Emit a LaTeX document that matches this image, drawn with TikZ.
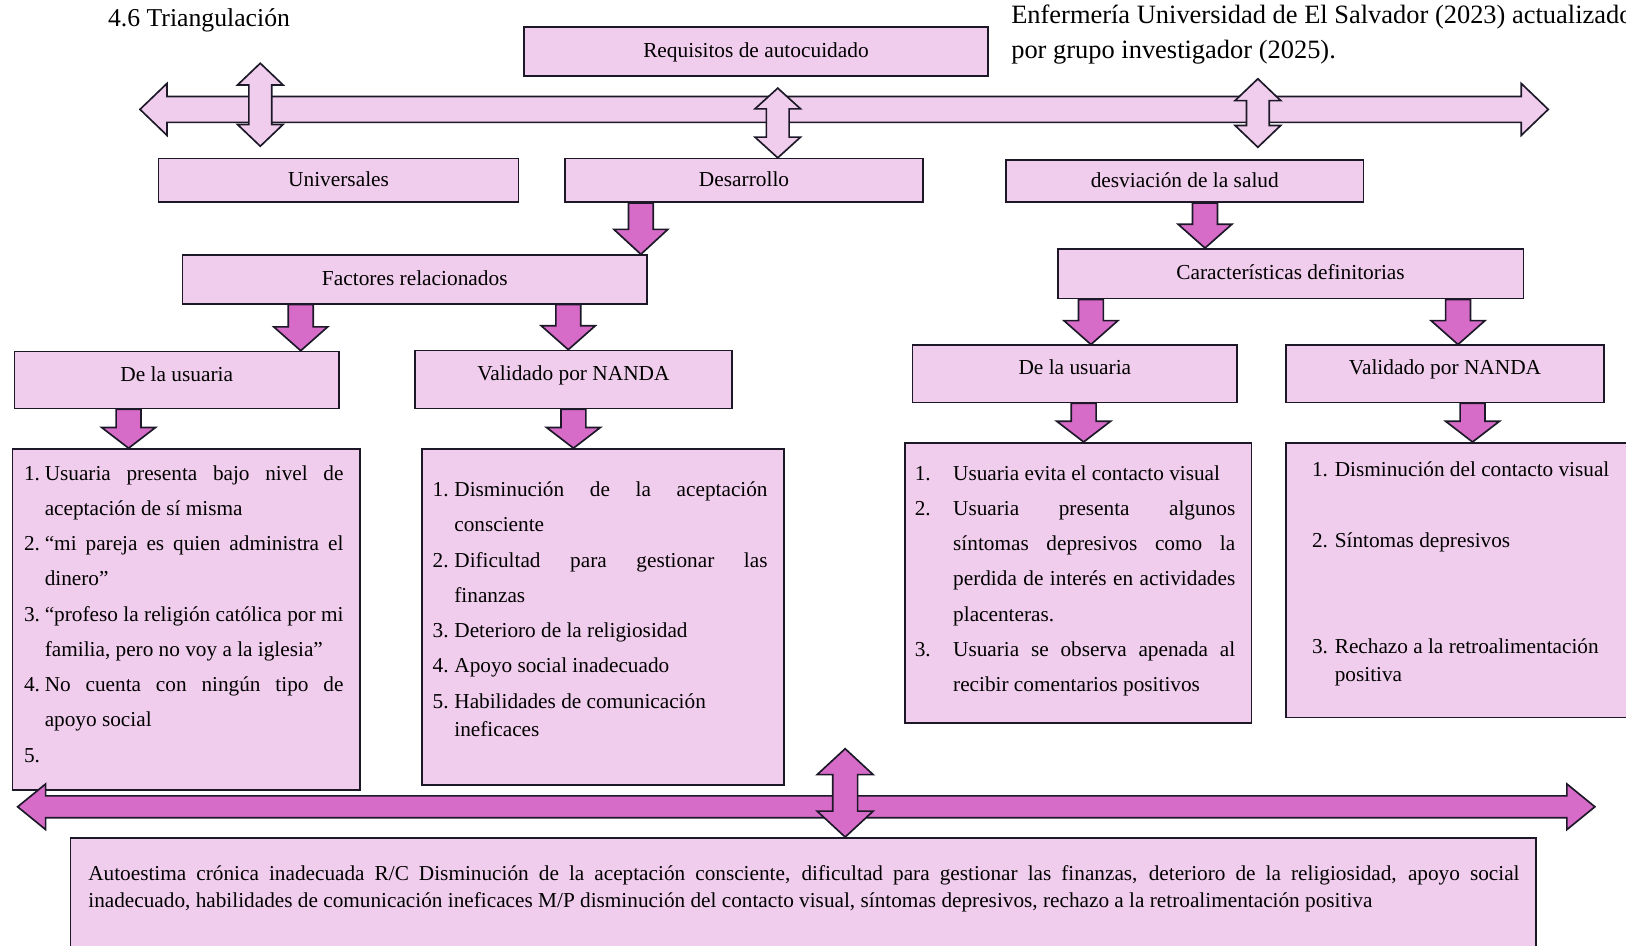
\documentclass[tikz,border=0pt]{standalone}
\usepackage{fontspec}
\setmainfont{Liberation Serif}
\usetikzlibrary{calc}
\definecolor{boxfill}{RGB}{240,205,236}
\definecolor{magarrow}{RGB}{214,108,200}
\definecolor{edge}{RGB}{28,24,40}
\newcommand\boxfont{\fontsize{20.6}{24}\selectfont}
\newcommand\listfont{\fontsize{20.5}{34}\selectfont}
\newcommand\jl[2]{\makebox[#1][s]{#2}}
\newcommand\numb[2]{\makebox[#1][l]{#2}}
% down block arrow: [style]{x}{from}{to}{head length}
\newcommand\blkdown[5][]{\draw[#1] let \p1=#3, \p2=#4 in
  (#2pt-12pt,\y1) -- (#2pt+12pt,\y1) -- (#2pt+12pt,\y2+#5pt) -- (#2pt+26pt,\y2+#5pt)
  -- (#2pt,\y2) -- (#2pt-26pt,\y2+#5pt) -- (#2pt-12pt,\y2+#5pt) -- cycle;}
% vertical double block arrow: [style]{top tip}{bottom tip}{shaft half}{head half}{head len}
\newcommand\blkvd[6][]{\draw[#1] let \p1=#2, \p2=#3 in
  (\x1,\y1) -- (\x1+#5pt,\y1-#6pt) -- (\x1+#4pt,\y1-#6pt) -- (\x1+#4pt,\y2+#6pt)
  -- (\x1+#5pt,\y2+#6pt) -- (\x1,\y2) -- (\x1-#5pt,\y2+#6pt) -- (\x1-#4pt,\y2+#6pt)
  -- (\x1-#4pt,\y1-#6pt) -- (\x1-#5pt,\y1-#6pt) -- cycle;}
% horizontal double block arrow: [style]{left tip}{right tip}{shaft half}{head half}{head len}
\newcommand\blkhd[6][]{\draw[#1] let \p1=#2, \p2=#3 in
  (\x1,\y1) -- (\x1+#6pt,\y1+#5pt) -- (\x1+#6pt,\y1+#4pt) -- (\x2-#6pt,\y1+#4pt)
  -- (\x2-#6pt,\y1+#5pt) -- (\x2,\y1) -- (\x2-#6pt,\y1-#5pt) -- (\x2-#6pt,\y1-#4pt)
  -- (\x1+#6pt,\y1-#4pt) -- (\x1+#6pt,\y1-#5pt) -- cycle;}
\begin{document}
\begin{tikzpicture}[x=1pt,y=-1pt,
  box/.style={draw=edge, line width=1.6pt, fill=boxfill, inner sep=0pt,
    text height=14pt, text depth=2pt, font=\boxfont},
  lowbox/.style={box, text depth=12pt},
  lbox/.style={draw=edge, line width=1.6pt, fill=boxfill, inner sep=0pt},
  txt/.style={inner sep=0pt, anchor=north west, align=left, font=\listfont},
  head/.style={inner sep=0pt, anchor=base west},
  lightarrow/.style={draw=edge, line width=1.6pt, fill=boxfill, line join=miter},
  darkarrow/.style={draw=edge, line width=1.6pt, fill=magarrow, line join=miter}]
\useasboundingbox (0,0) rectangle (1568,912);

% header texts
\node[head, font=\fontsize{24.8}{28}\selectfont] (title) at (104,25.7) {4.6 Triangulación};
\node[head, font=\fontsize{25.5}{30}\selectfont] (src1) at (975,22.4) {Enfermería Universidad de El Salvador (2023) actualizado};
\node[head, font=\fontsize{25.5}{30}\selectfont] (src2) at (975,56.4) {por grupo investigador (2025).};

% boxes
\node[box, minimum width=448, minimum height=47] (req) at (729,49.5) {Requisitos de autocuidado};
\node[box, minimum width=347, minimum height=42] (univ) at (326.5,174) {Universales};
\node[box, minimum width=345, minimum height=42] (desa) at (717.5,174) {Desarrollo};
\node[box, minimum width=345, minimum height=41] (desv) at (1142.5,174.5) {desviación de la salud};
\node[box, minimum width=448, minimum height=47] (fact) at (400,269.5) {Factores relacionados};
\node[box, minimum width=449, minimum height=48] (cara) at (1244.5,264) {Características definitorias};
\node[lowbox, minimum width=313, minimum height=55] (usuL) at (170.5,366.5) {De la usuaria};
\node[lowbox, minimum width=306, minimum height=56] (nandaL) at (553,366) {Validado por NANDA};
\node[lowbox, minimum width=313, minimum height=55] (usuR) at (1036.5,360.5) {De la usuaria};
\node[lowbox, minimum width=307, minimum height=55] (nandaR) at (1393.5,360.5) {Validado por NANDA};

% top connectors
\coordinate (topL) at (135,105.5);
\coordinate (topR) at (1493,105.5);
\blkhd[lightarrow]{(topL)}{(topR)}{12.5}{25}{26}
\coordinate (v1t) at (251,61);
\coordinate (v1b) at (251,141);
\blkvd[lightarrow]{(v1t)}{(v1b)}{11}{22}{21}
\coordinate (v2t) at (750,85);
\blkvd[lightarrow]{(v2t)}{(v2t |- desa.north)}{11}{22}{20}
\coordinate (v3t) at (1213,76);
\coordinate (v3b) at (1213,142);
\blkvd[lightarrow]{(v3t)}{(v3b)}{11}{22}{21}

% down arrows
\blkdown[darkarrow]{618}{(desa.south)}{(fact.north)}{24}
\blkdown[darkarrow]{1162}{(desv.south)}{(cara.north)}{23}
\blkdown[darkarrow]{290}{(fact.south)}{(usuL.north)}{23}
\blkdown[darkarrow]{548}{(fact.south)}{(nandaL.north)}{23}
\blkdown[darkarrow]{1052}{(cara.south)}{(usuR.north)}{23}
\blkdown[darkarrow]{1406}{(cara.south)}{(nandaR.north)}{23}

% list boxes
\node[lbox, minimum width=335, minimum height=329] (listA) at (179.5,597.5) {};
\node[lbox, minimum width=349, minimum height=324] (listB) at (581.5,595) {};
\node[lbox, minimum width=334, minimum height=270] (listC) at (1040,562) {};
\node[lbox, minimum width=400, minimum height=265] (listD) at (1440,559.5) {};

\blkdown[darkarrow]{124}{(usuL.south)}{(listA.north)}{20}
\blkdown[darkarrow]{553}{(nandaL.south)}{(listB.north)}{20}
\blkdown[darkarrow]{1045}{(usuR.south)}{(listC.north)}{20}
\blkdown[darkarrow]{1420}{(nandaR.south)}{(listD.north)}{20}

\node[txt] (textA) at (23,438.9) {%
\strut\numb{20pt}{1.}\jl{288pt}{Usuaria presenta bajo nivel de}\\
\strut\hspace*{20pt}aceptación de sí misma\\
\strut\numb{20pt}{2.}\jl{288pt}{“mi pareja es quien administra el}\\
\strut\hspace*{20pt}dinero”\\
\strut\numb{20pt}{3.}\jl{288pt}{“profeso la religión católica por mi}\\
\strut\hspace*{20pt}familia, pero no voy a la iglesia”\\
\strut\numb{20pt}{4.}\jl{288pt}{No cuenta con ningún tipo de}\\
\strut\hspace*{20pt}apoyo social\\
\strut 5.};

\node[txt] (textB) at (417,454.9) {%
\strut\numb{21pt}{1.}\jl{302pt}{Disminución de la aceptación}\\
\strut\hspace*{21pt}consciente\\
\strut\numb{21pt}{2.}\jl{302pt}{Dificultad para gestionar las}\\
\strut\hspace*{21pt}finanzas\\
\strut\numb{21pt}{3.}Deterioro de la religiosidad\\
\strut\numb{21pt}{4.}Apoyo social inadecuado\\
\strut\numb{21pt}{5.}Habilidades de comunicación\\[-7pt]
\strut\hspace*{21pt}ineficaces};

\node[txt] (textC) at (882,438.9) {%
\strut\numb{37pt}{1.}Usuaria evita el contacto visual\\
\strut\numb{37pt}{2.}\jl{272pt}{Usuaria presenta algunos}\\
\strut\hspace*{37pt}\jl{272pt}{síntomas depresivos como la}\\
\strut\hspace*{37pt}\jl{272pt}{perdida de interés en actividades}\\
\strut\hspace*{37pt}placenteras.\\
\strut\numb{37pt}{3.}\jl{272pt}{Usuaria se observa apenada al}\\
\strut\hspace*{37pt}recibir comentarios positivos};

\node[txt] (textD) at (1265,435.9) {%
\strut\numb{22pt}{1.}Disminución del contacto visual\\[34pt]
\strut\numb{22pt}{2.}Síntomas depresivos\\[68pt]
\strut\numb{22pt}{3.}Rechazo a la retroalimentación\\[-7pt]
\strut\hspace*{22pt}positiva};

% diagnosis box
\node[lbox, minimum width=1413, minimum height=152] (diag) at (774.5,884) {};
\node[txt, font=\fontsize{20.5}{26}\selectfont] (diagtxt) at (85,830.3) {%
\strut\jl{1380pt}{Autoestima crónica inadecuada R/C Disminución de la aceptación consciente, dificultad para gestionar las finanzas, deterioro de la religiosidad, apoyo social}\\
\strut inadecuado, habilidades de comunicación ineficaces M/P disminución del contacto visual, síntomas depresivos, rechazo a la retroalimentación positiva};

% bottom connectors
\coordinate (botL) at (17,778);
\coordinate (botR) at (1538,778);
\blkhd[darkarrow]{(botL)}{(botR)}{10.5}{22}{27}
\coordinate (v4t) at (815,722);
\blkvd[darkarrow]{(v4t)}{(v4t |- diag.north)}{12}{27}{25}
\end{tikzpicture}
\end{document}
